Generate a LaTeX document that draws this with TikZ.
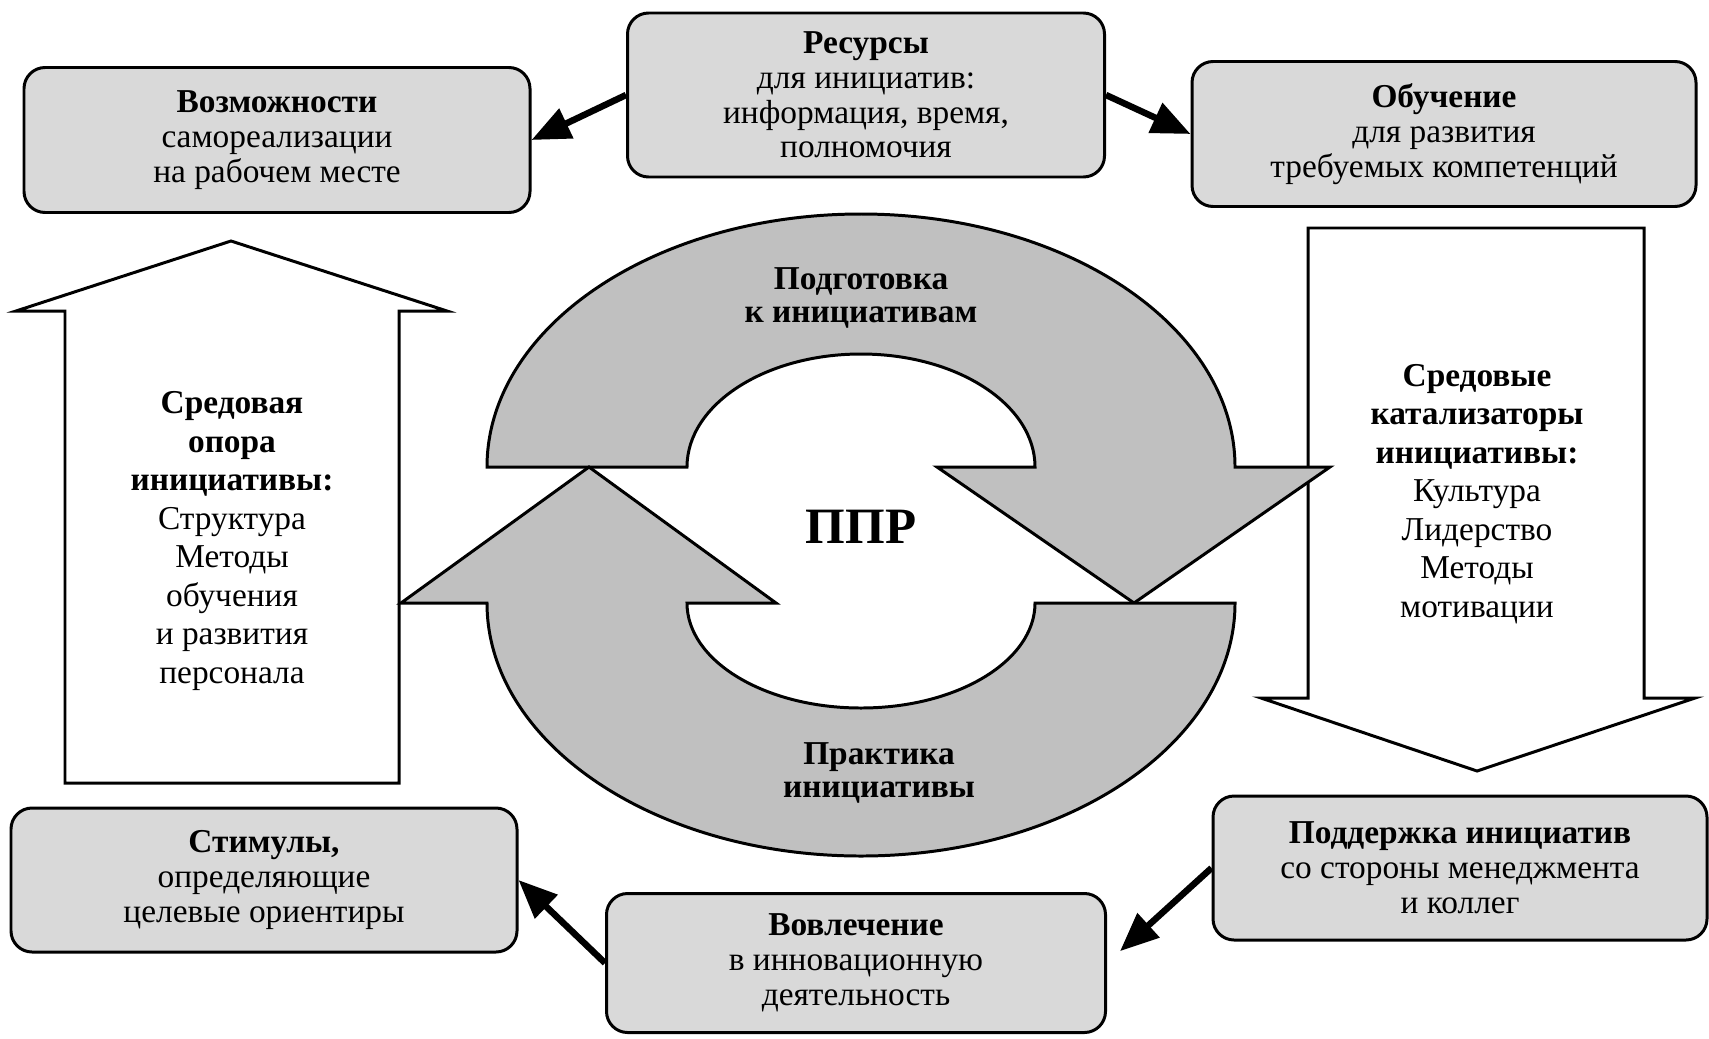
\documentclass[tikz,border=0pt]{standalone}
\usepackage{fontspec}
\setmainfont{Liberation Serif}
\usetikzlibrary{arrows.meta}
\newlength\px \setlength\px{0.02cm}
\definecolor{boxgray}{HTML}{D9D9D9}
\definecolor{ringgray}{HTML}{C0C0C0}

\begin{document}
\begin{tikzpicture}[x=0.02cm,y=-0.02cm,
  infobox/.style={draw, line width=1.7pt, fill=boxgray, rounded corners=12pt,
    align=center, inner sep=0pt, font=\fontsize{19}{19.8}\selectfont},
  link/.style={line width=3.7pt, -{Triangle[length=22pt,width=18pt]}},
  pillar/.style={draw, line width=1.7pt, fill=white, line join=miter},
  ring/.style={draw, line width=1.7pt, fill=ringgray, line join=miter},
  pillartext/.style={align=center, font=\fontsize{19}{21.9}\selectfont},
  ringtext/.style={align=center, font=\bfseries\fontsize{19}{18.7}\selectfont},
]
\useasboundingbox (0,0) rectangle (1709,1038);

% side arrows
\draw[pillar] (65,783) -- (65,311) -- (16,311) -- (231,241) -- (447,311)
  -- (399,311) -- (399,783) -- cycle;
\draw[pillar] (1308,228) -- (1644,228) -- (1644,698) -- (1695,698)
  -- (1477,771) -- (1261,698) -- (1308,698) -- cycle;

% circular arrows
\draw[ring] (487,467) arc[start angle=180,end angle=0,x radius=374\px,y radius=253\px]
  -- (1330,467) -- (1134,603) -- (937,467) -- (1035,467)
  arc[start angle=0,end angle=180,x radius=174\px,y radius=113\px] -- cycle;
\draw[ring] (1235,603) arc[start angle=0,end angle=-180,x radius=374\px,y radius=253\px]
  -- (401,603) -- (589,467) -- (776,603) -- (687,603)
  arc[start angle=180,end angle=360,x radius=174\px,y radius=105\px] -- cycle;

\node[pillartext] (support) at (232,541) {\textbf{Средовая}\\\textbf{опора}\\\textbf{инициативы:}\\Структура\\Методы\\обучения\\и развития\\персонала};
\node[pillartext] (catal) at (1477,494) {\textbf{Средовые}\\\textbf{катализаторы}\\\textbf{инициативы:}\\Культура\\Лидерство\\Методы\\мотивации};

\node[ringtext] (prep) at (861,298) {Подготовка\\к инициативам};
\node[font=\bfseries\fontsize{29}{34}\selectfont] (ppr) at (861,527) {ППР};
\node[ringtext] (prac) at (879,773) {Практика\\инициативы};

% boxes
\node[infobox, minimum width=506\px, minimum height=145\px] (voz) at (277,140)
  {\textbf{Возможности}\\самореализации\\на рабочем месте};
\node[infobox, minimum width=477\px, minimum height=164\px] (res) at (866,95)
  {\textbf{Ресурсы}\\для инициатив:\\информация, время,\\полномочия};
\node[infobox, minimum width=504\px, minimum height=145\px] (obu) at (1444,134)
  {\textbf{Обучение}\\для развития\\требуемых компетенций};
\node[infobox, minimum width=506\px, minimum height=144\px] (stim) at (264,880)
  {\textbf{Стимулы,}\\определяющие\\целевые ориентиры};
\node[infobox, minimum width=499\px, minimum height=139\px] (vov) at (856,963)
  {\textbf{Вовлечение}\\в инновационную\\деятельность};
\node[infobox, minimum width=494\px, minimum height=144\px] (pod) at (1460,868)
  {\textbf{Поддержка инициатив}\\со стороны менеджмента\\и коллег};

% connectors
\draw[link] (res.west) -- (voz.east);
\draw[link] (res.east) -- (obu.west);
\draw[link, shorten >=10pt] (pod.west) -- (vov.east);
\draw[link] (vov.west) -- (stim.east);
\end{tikzpicture}
\end{document}
